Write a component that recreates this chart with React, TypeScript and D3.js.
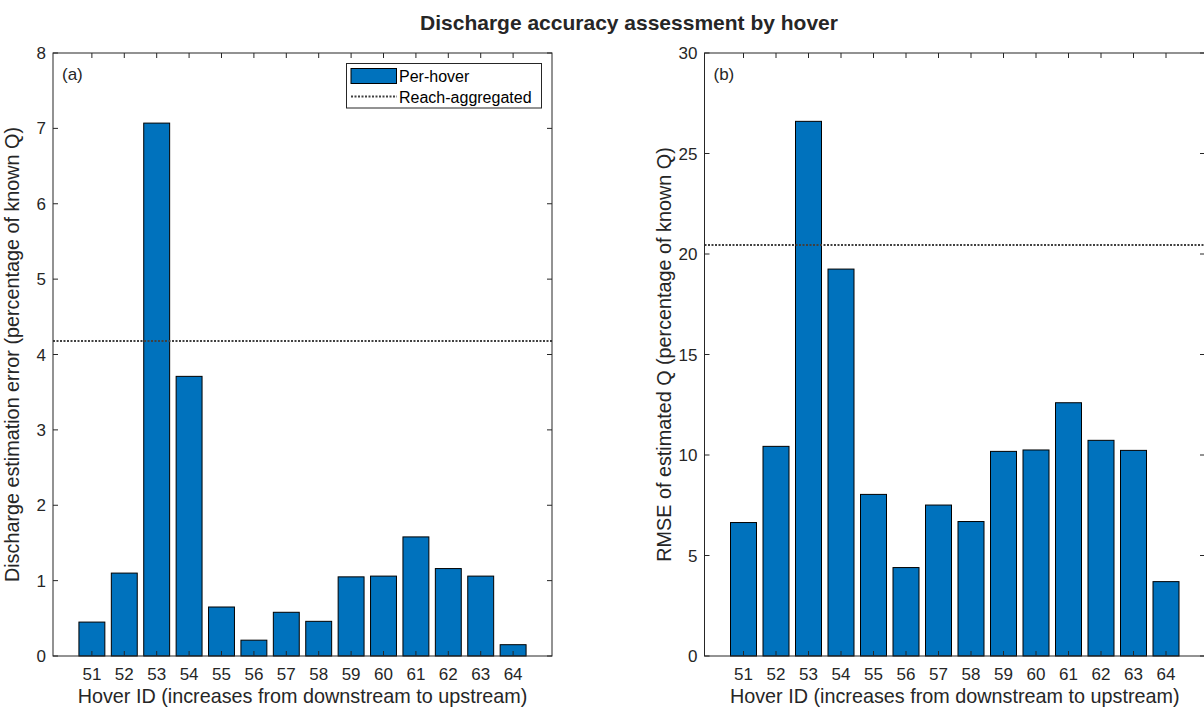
import React from "react";
import * as d3 from "d3";

// Hover IDs and per-hover accuracy metrics
const hoverIds = [51, 52, 53, 54, 55, 56, 57, 58, 59, 60, 61, 62, 63, 64];
const dischargeError = [0.45, 1.1, 7.07, 3.71, 0.65, 0.21, 0.58, 0.46, 1.05, 1.06, 1.58, 1.16, 1.06, 0.15];
const rmseValues = [6.64, 10.43, 26.6, 19.25, 8.04, 4.4, 7.51, 6.69, 10.18, 10.25, 12.6, 10.73, 10.23, 3.7];
const reachErrorA = 4.18;
const reachRmseB = 20.45;
const yTicksA = [0, 1, 2, 3, 4, 5, 6, 7, 8];
const yTicksB = [0, 5, 10, 15, 20, 25, 30];

const FONT = "'Liberation Sans', Arial, Helvetica, sans-serif";
const TEXT = "#262626";
const AXIS = "#262626";
const BAR = "#0072BD";
const TICK_FS = 17;
const LABEL_FS = 19.8;

type PanelProps = {
  left: number;
  right: number;
  top: number;
  bottom: number;
  values: number[];
  yMax: number;
  yTicks: number[];
  reach: number;
  tag: string;
  ylabel: string;
  ylabelX: number;
  legend?: boolean;
};

function Panel(p: PanelProps) {
  const x = d3.scaleLinear().domain([49.8, 65.2]).range([p.left, p.right]);
  const y = d3.scaleLinear().domain([0, p.yMax]).range([p.bottom, p.top]);
  const bw = x(50.4) - x(50);
  const tl = 5;
  const midX = (p.left + p.right) / 2;
  const midY = (p.top + p.bottom) / 2;
  return (
    <g>
      {/* bars */}
      {hoverIds.map((id, i) => (
        <rect
          key={id}
          x={x(id) - bw}
          y={y(p.values[i])}
          width={bw * 2}
          height={y(0) - y(p.values[i])}
          fill={BAR}
          stroke="#000"
          strokeWidth={1}
        />
      ))}
      {/* reach-aggregated reference line */}
      <line
        x1={p.left}
        x2={p.right}
        y1={y(p.reach)}
        y2={y(p.reach)}
        stroke="#404040"
        strokeWidth={2}
        strokeDasharray="2,1.5"
      />
      {/* axes box */}
      <rect x={p.left} y={p.top} width={p.right - p.left} height={p.bottom - p.top} fill="none" stroke={AXIS} strokeWidth={1} />
      {/* x ticks top & bottom */}
      {hoverIds.map((id) => (
        <g key={"xt" + id}>
          <line x1={x(id)} x2={x(id)} y1={p.bottom} y2={p.bottom - tl} stroke={AXIS} strokeWidth={1} />
          <line x1={x(id)} x2={x(id)} y1={p.top} y2={p.top + tl} stroke={AXIS} strokeWidth={1} />
          <text x={x(id)} y={679.5} textAnchor="middle" fontSize={TICK_FS} fill={TEXT} fontFamily={FONT}>
            {id}
          </text>
        </g>
      ))}
      {/* y ticks left & right */}
      {p.yTicks.map((t) => (
        <g key={"yt" + t}>
          <line x1={p.left} x2={p.left + tl} y1={y(t)} y2={y(t)} stroke={AXIS} strokeWidth={1} />
          <line x1={p.right} x2={p.right - tl} y1={y(t)} y2={y(t)} stroke={AXIS} strokeWidth={1} />
          <text x={p.left - 7} y={y(t)} dy="0.36em" textAnchor="end" fontSize={TICK_FS} fill={TEXT} fontFamily={FONT}>
            {t}
          </text>
        </g>
      ))}
      <text x={p.left + 9} y={80} fontSize={17} fill={TEXT} fontFamily={FONT}>
        {p.tag}
      </text>
      <text x={midX} y={703} textAnchor="middle" fontSize={LABEL_FS} fill={TEXT} fontFamily={FONT}>
        Hover ID (increases from downstream to upstream)
      </text>
      <text
        transform={`translate(${p.ylabelX},${midY}) rotate(-90)`}
        textAnchor="middle"
        fontSize={LABEL_FS}
        fill={TEXT}
        fontFamily={FONT}
      >
        {p.ylabel}
      </text>
      {p.legend && (
        <g>
          <rect x={346.5} y={63.5} width={195} height={44.5} fill="#fff" stroke={AXIS} strokeWidth={1} />
          <rect x={351} y={68.5} width={45.5} height={15} fill={BAR} stroke="#000" strokeWidth={1} />
          <line x1={351} x2={397} y1={96.5} y2={96.5} stroke="#404040" strokeWidth={2} strokeDasharray="2,1.5" />
          <text x={399} y={82} fontSize={16} fill="#000" fontFamily={FONT}>
            Per-hover
          </text>
          <text x={399} y={102.5} fontSize={16} fill="#000" fontFamily={FONT}>
            Reach-aggregated
          </text>
        </g>
      )}
    </g>
  );
}

export default function App() {
  return (
    <svg
      width={1204}
      height={708}
      style={{ position: "absolute", left: 0, top: 0, background: "#fff" }}
    >
      <rect x={0} y={0} width={1204} height={708} fill="#fff" />
      <text x={629} y={30} textAnchor="middle" fontSize={21} fontWeight="bold" fill={TEXT} fontFamily={FONT}>
        Discharge accuracy assessment by hover
      </text>
      <Panel
        left={53}
        right={552}
        top={53}
        bottom={656}
        values={dischargeError}
        yMax={8}
        yTicks={yTicksA}
        reach={reachErrorA}
        tag="(a)"
        ylabel="Discharge estimation error (percentage of known Q)"
        ylabelX={19}
        legend
      />
      <Panel
        left={704.5}
        right={1205}
        top={53}
        bottom={656}
        values={rmseValues}
        yMax={30}
        yTicks={yTicksB}
        reach={reachRmseB}
        tag="(b)"
        ylabel="RMSE of estimated Q (percentage of known Q)"
        ylabelX={671}
      />
    </svg>
  );
}
